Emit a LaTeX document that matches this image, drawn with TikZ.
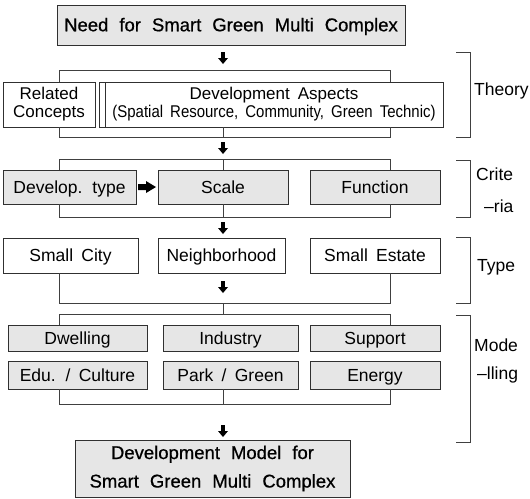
\documentclass[tikz,border=0pt]{standalone}
\usepackage{fontspec}
\usepackage{graphicx}
\setmainfont{Liberation Sans}[WordSpace=1.7]
\newfontfamily\heavyfont{Liberation Sans}[FakeBold=0.7]
\definecolor{boxgray}{HTML}{E6E6E6}
\definecolor{linec}{HTML}{303030}
\definecolor{brk}{HTML}{404040}
\newcommand\mybox[7]{%
  \node[#6, minimum width={#4-#2}, minimum height={#5-#3}] (#1) at ({(#2+#4)/2},{(#3+#5)/2}) {#7};}
\newcommand\darr[2]{%
  \fill[black] ({#1-1.8},{#2}) -- ({#1+1.8},{#2}) -- ({#1+1.8},{#2+6}) -- ({#1+5},{#2+6}) -- ({#1},{#2+12}) -- ({#1-5},{#2+6}) -- ({#1-1.8},{#2+6}) -- cycle;}
\newcommand\bigfnt{\heavyfont\fontsize{18.5}{28.5}\selectfont\spaceskip=11pt plus 1pt minus 1pt\relax}
\tikzset{
  base/.style={draw=linec, line width=0.9pt, inner sep=0pt, outer sep=0pt, align=center, text=black},
  gbox/.style={base, fill=boxgray},
  wbox/.style={base, fill=white},
  txt/.style={font=\fontsize{17.5}{19}\selectfont, text height=12.5pt, text depth=0pt},
  big/.style={font=\bigfnt},
  bigone/.style={big, text height=13.5pt, text depth=1pt},
  small/.style={font=\fontsize{17}{18}\selectfont},
  bline/.style={draw=brk, line width=0.8pt},
  lbl/.style={anchor=west, inner sep=0pt, font=\fontsize{17.5}{19}\selectfont}
}
\begin{document}
\begin{tikzpicture}[x=1pt, y=-1pt]
\useasboundingbox (0,0) rectangle (530,498);
% title
\mybox{need}{57}{5}{405}{45}{gbox, bigone}{Need for Smart Green Multi Complex}
\darr{223}{52}
% theory row
\draw[bline] (59,82) |- (390,70) -- (390,82);
\mybox{rel}{3}{82}{95}{127}{wbox, small}{Related\\Concepts}
\mybox{gap}{99}{82}{105}{127}{wbox}{}
\mybox{dev}{105}{82}{443}{127}{wbox, small}{Development Aspects\\\scalebox{0.88}[1]{(Spatial Resource, Community, Green Technic)}}
\draw[bline] (59,127) |- (390,137) -- (390,127);
\draw[bline] (223,127) -- (223,137);
\darr{223}{142}
% criteria row
\draw[bline] (59,170) |- (390,159) -- (390,170);
\draw[bline] (223,159) -- (223,170);
\mybox{dtype}{3}{170}{136}{204}{gbox, txt}{Develop. type}
\mybox{scale}{158}{170}{288}{204}{gbox, txt}{Scale}
\mybox{func}{310}{170}{440}{204}{gbox, txt}{Function}
\fill[black] (138,184) -- (146,184) -- (146,181) -- (156,187) -- (146,193) -- (146,190) -- (138,190) -- cycle;
\draw[bline] (59,204) |- (390,217) -- (390,204);
\draw[bline] (223,204) -- (223,217);
\darr{223}{222}
% type row
\mybox{city}{3}{238}{138}{273}{wbox, txt}{Small City}
\mybox{neigh}{158}{238}{285}{273}{wbox, txt}{Neighborhood}
\mybox{estate}{310}{238}{440}{273}{wbox, txt}{Small Estate}
\darr{223}{281}
\draw[bline] (59,273) |- (390,303) -- (390,273);
\draw[bline] (223,303) -- (223,314);
\draw[bline] (59,325) |- (390,314) -- (390,325);
% modelling rows
\mybox{dwell}{8}{325}{147}{351}{gbox, txt}{Dwelling}
\mybox{indus}{163}{325}{298}{351}{gbox, txt}{Industry}
\mybox{supp}{310}{325}{440}{351}{gbox, txt}{Support}
\mybox{edu}{8}{361}{147}{389}{gbox, txt}{Edu. / Culture}
\mybox{park}{163}{361}{298}{389}{gbox, txt}{Park / Green}
\mybox{energy}{310}{361}{440}{389}{gbox, txt}{Energy}
\draw[bline] (59,389) |- (390,404) -- (390,389);
\draw[bline] (223,389) -- (223,404);
\darr{223}{425}
\mybox{model}{75}{440}{350}{497}{gbox, big}{Development Model for\\Smart Green Multi Complex}
% right brackets
\draw[bline] (456,52) -| (470,137) -- (456,137);
\draw[bline] (456,160) -| (470,217) -- (456,217);
\draw[bline] (456,237) -| (470,303) -- (456,303);
\draw[bline] (456,315) -| (470,442) -- (456,442);
\node[lbl] (lt) at (474,91) {Theory};
\node[lbl] (lc1) at (476,174) {Crite};
\node[lbl] (lc2) at (484,206) {–ria};
\node[lbl] (lty) at (477,267) {Type};
\node[lbl] (lm1) at (474,345) {Mode};
\node[lbl] (lm2) at (477,375) {–lling};
\end{tikzpicture}
\end{document}
